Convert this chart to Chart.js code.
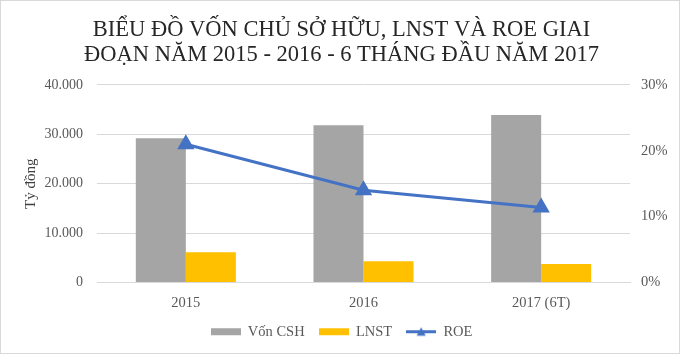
<!DOCTYPE html>
<html><head><meta charset="utf-8">
<script src="https://cdn.jsdelivr.net/npm/chart.js@4"></script>
<style>
html,body{margin:0;padding:0;background:#fff}
#wrap{width:680px;height:354px;box-sizing:border-box;border:1px solid #d9d9d9;position:relative;background:#fff}
#wrap canvas{display:block}
</style></head><body>
<div id="wrap"><canvas id="c"></canvas></div>
<script>
const categories = ['2015', '2016', '2017 (6T)'];
const vonCSH = [29200, 31850, 33900];
const lnst = [6100, 4300, 3750];
const roe = [0.21, 0.14, 0.114];
const leftTicks = [0, 10000, 20000, 30000, 40000];
const rightTicks = [0, 0.1, 0.2, 0.3];
const titleLines = ['BIỂU ĐỒ VỐN CHỦ SỞ HỮU, LNST VÀ ROE GIAI', 'ĐOẠN NĂM 2015 - 2016 - 6 THÁNG ĐẦU NĂM 2017'];

const GRAY = '#a5a5a5', YELLOW = '#ffc000', BLUE = '#4472c4', TXT = '#595959';
const SERIF = "'Liberation Serif', 'Times New Roman', serif";

function legendImg(kind, color) {
  const c = document.createElement('canvas');
  c.width = 30; c.height = 11;
  const g = c.getContext('2d');
  if (kind === 'bar') {
    g.fillStyle = color; g.fillRect(0, 2, 30, 7);
  } else {
    g.strokeStyle = color; g.lineWidth = 3;
    g.beginPath(); g.moveTo(0, 5.5); g.lineTo(30, 5.5); g.stroke();
    g.fillStyle = color; g.beginPath();
    g.moveTo(15, 1); g.lineTo(19.5, 9.5); g.lineTo(10.5, 9.5); g.closePath(); g.fill();
  }
  return c;
}
const legendImgs = [legendImg('bar', GRAY), legendImg('bar', YELLOW), legendImg('line', BLUE)];

function fmtThousands(v) {
  return v === 0 ? '0' : v.toString().replace(/\B(?=(\d{3})+(?!\d))/g, '.');
}

new Chart(document.getElementById('c'), {
  data: {
    labels: categories,
    datasets: [
      { type: 'bar', label: 'Vốn CSH', data: vonCSH, backgroundColor: GRAY, yAxisID: 'y', order: 2,
        categoryPercentage: 0.563, barPercentage: 1 },
      { type: 'bar', label: 'LNST', data: lnst, backgroundColor: YELLOW, yAxisID: 'y', order: 2,
        categoryPercentage: 0.563, barPercentage: 1 },
      { type: 'line', label: 'ROE', data: roe, borderColor: BLUE, backgroundColor: BLUE, yAxisID: 'y1', order: 1,
        borderWidth: 3, pointStyle: 'triangle', pointRadius: 7, pointHoverRadius: 7, tension: 0, fill: false }
    ]
  },
  options: {
    responsive: true,
    maintainAspectRatio: false,
    animation: false,
    layout: { padding: { left: 3, right: 0, top: 0, bottom: 4 } },
    plugins: {
      tooltip: { enabled: false },
      title: {
        display: true, text: titleLines, color: '#262626',
        font: { family: SERIF, size: 22.5, weight: 'normal', lineHeight: 1.11 },
        padding: { top: 16.5, bottom: 17.5 }
      },
      legend: {
        position: 'bottom',
        labels: {
          usePointStyle: true, pointStyleWidth: 30, boxHeight: 11,
          color: TXT, padding: 14,
          font: { family: SERIF, size: 14.5 },
          generateLabels: (chart) => chart.data.datasets.map((ds, i) => ({
            text: ds.label, pointStyle: legendImgs[i], fontColor: TXT,
            fillStyle: 'transparent', strokeStyle: 'transparent', lineWidth: 0,
            hidden: false, datasetIndex: i
          }))
        }
      }
    },
    scales: {
      x: {
        grid: { display: false },
        border: { display: true, color: '#d9d9d9', width: 1 },
        ticks: { color: TXT, font: { family: SERIF, size: 14.5 }, padding: 4 },
        afterFit: (s) => { s.height = 28; }
      },
      y: {
        position: 'left', min: 0, max: 40000,
        afterBuildTicks: (s) => { s.ticks = leftTicks.map(v => ({ value: v })); },
        grid: { color: '#d9d9d9', drawTicks: false },
        border: { display: false },
        ticks: { color: TXT, font: { family: SERIF, size: 14 }, padding: 14, callback: (v) => fmtThousands(v) },
        title: { display: true, text: 'Tỷ đồng', color: '#404040', font: { family: SERIF, size: 15 }, padding: { top: 18, bottom: 0 } },
        afterFit: (s) => { s.width = 93; }
      },
      y1: {
        position: 'right', min: 0, max: 0.3,
        afterBuildTicks: (s) => { s.ticks = rightTicks.map(v => ({ value: v })); },
        grid: { drawOnChartArea: false, drawTicks: false },
        border: { display: false },
        ticks: { color: TXT, font: { family: SERIF, size: 14.5 }, padding: 11, callback: (v) => Math.round(v * 100) + '%' },
        afterFit: (s) => { s.width = 49; }
      }
    }
  }
});
</script>
</body></html>
